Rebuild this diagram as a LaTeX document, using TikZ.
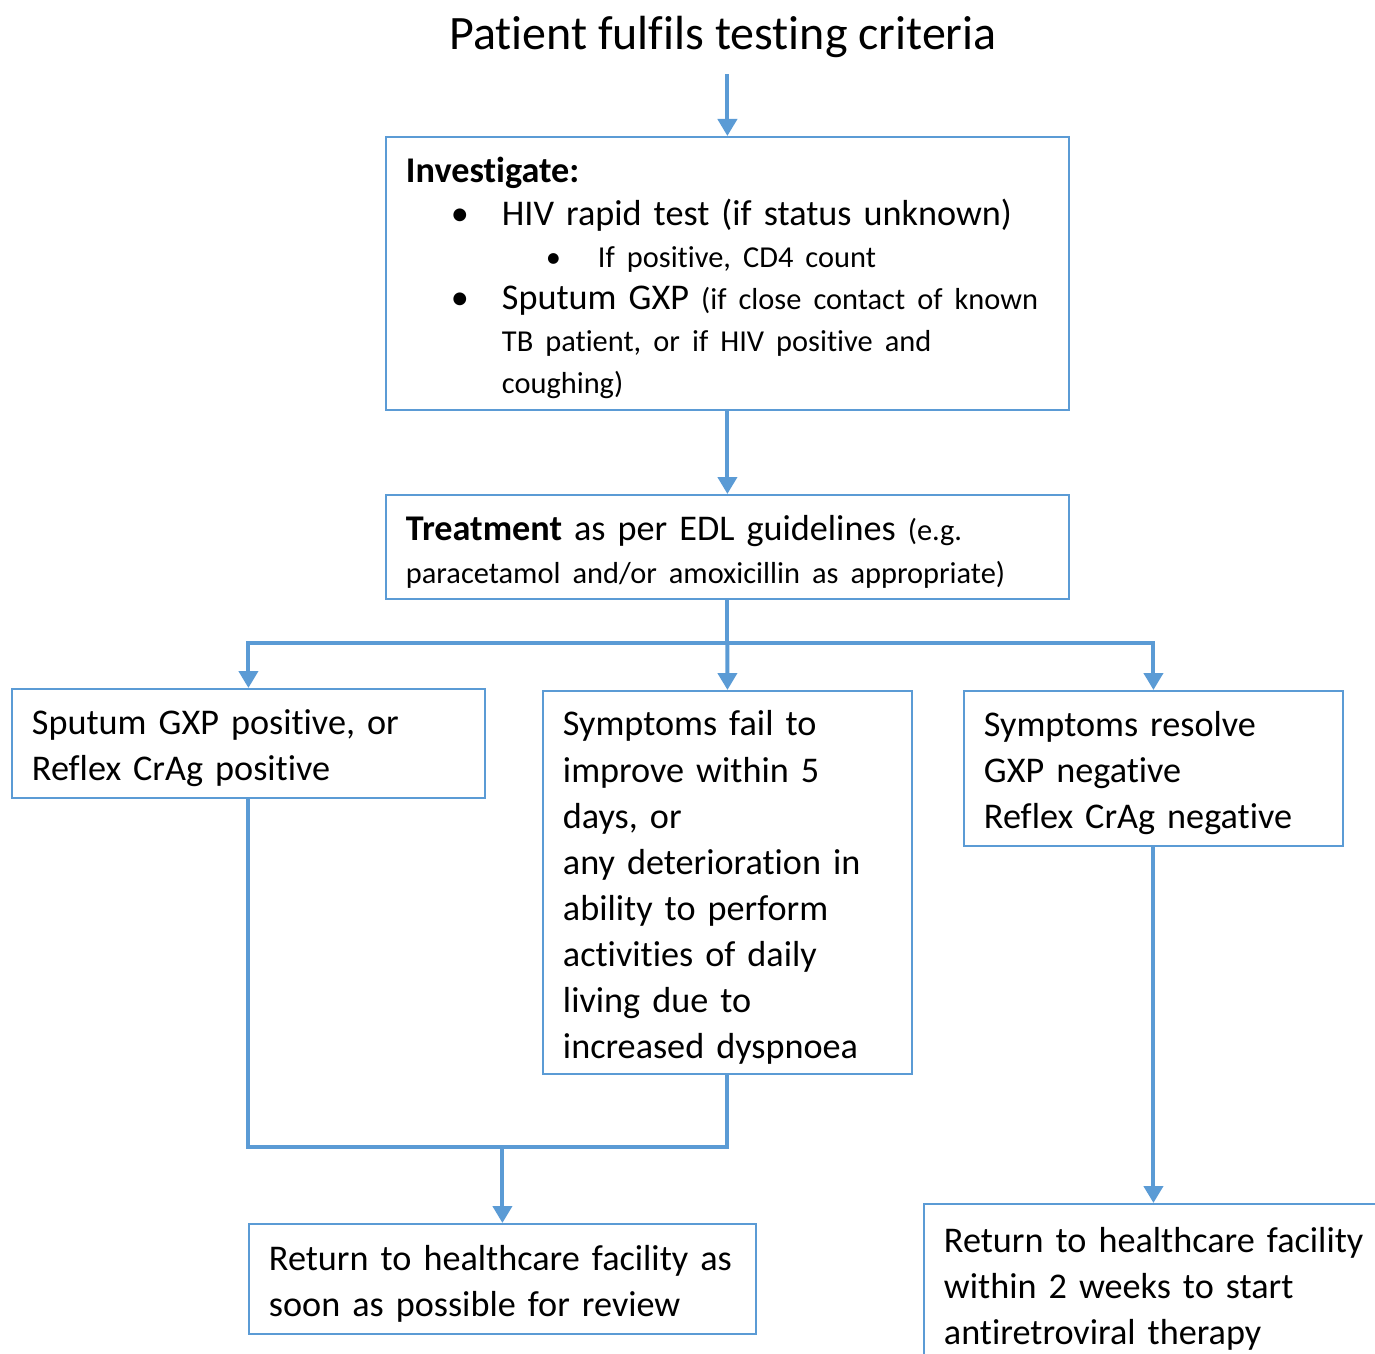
\documentclass[tikz,border=0pt]{standalone}
\usepackage{fontspec}
\setmainfont{Carlito}[Ligatures=NoCommon]
\usetikzlibrary{arrows.meta,positioning}
\definecolor{flowblue}{RGB}{91,155,213}
\newcommand{\bigtxt}{\fontsize{20.6}{26.2}\selectfont}
\newcommand{\smalltxt}{\fontsize{17.3}{24}\selectfont}

\begin{document}
\begin{tikzpicture}[x=0.02cm,y=-0.02cm,
box/.style ={rectangle, draw=flowblue, line width=1.1pt, anchor=north west,
  align=left, inner xsep=0.4cm, inner ysep=0pt, font=\bigtxt,
  execute at begin node={\rule{0pt}{20pt}}
},
link/.style ={draw=flowblue, line width=2.3pt},
arrow/.style ={link, -{Triangle[width=0.38cm,length=0.34cm]}}
]
\useasboundingbox (0,0) rectangle (1375,1354);
\clip (0,0) rectangle (1375,1354);

\node (title) at (723,37) [inner xsep=0pt, inner ysep=0.32cm,
  font=\fontsize{27.3}{32}\selectfont] {Patient fulfils testing criteria};

% investigate and treat
\node (inv) at (385,136) [box, text width=12.86cm, minimum height=5.46cm,
  font=\fontsize{20.6}{24}\selectfont]
  {\textbf{Investigate:}\\
   \hspace*{0.9cm}\makebox[1.02cm][l]{\textbullet}HIV rapid test (if status unknown)\\
   \hspace*{2.8cm}\makebox[1.04cm][l]{\smalltxt\textbullet}{\smalltxt If positive, CD4 count}\\
   \hspace*{0.9cm}\makebox[1.02cm][l]{\textbullet}Sputum GXP {\smalltxt(if close contact of known}\\
   \hspace*{1.92cm}{\smalltxt TB patient, or if HIV positive and}\\
   \hspace*{1.92cm}{\smalltxt coughing)}};
\node (treat) at (385,494) [box, text width=12.86cm, minimum height=2.08cm,
  font=\fontsize{20.6}{24.5}\selectfont]
  {\textbf{Treatment} as per EDL guidelines {\smalltxt(e.g.}\\
   {\smalltxt paracetamol and/or amoxicillin as appropriate)}};

% outcomes
\node (gxp) at (11,688) [box, text width=8.66cm, minimum height=2.18cm]
  {Sputum GXP positive, or\\Reflex CrAg positive};
\node (fail) at (542,690) [box, text width=6.58cm, minimum height=7.66cm]
  {Symptoms fail to\\improve within 5\\days, or\\any deterioration in\\ability to perform\\
   activities of daily\\living due to\\increased dyspnoea};
\node (resolve) at (963,690) [box, text width=6.78cm, minimum height=3.1cm]
  {Symptoms resolve\\GXP negative\\Reflex CrAg negative};

\node (review) at (248,1223) [box, text width=9.34cm, minimum height=2.2cm]
  {Return to healthcare facility as\\soon as possible for review};
\node (art) at (923,1203) [box, text width=8.8cm, minimum height=3.2cm]
  {Return to healthcare facility\\within 2 weeks to start\\antiretroviral therapy};

\coordinate (split) at (treat.south |- 0,643);
\coordinate (join) at (review.north |- 0,1147);

\draw[arrow] (title.south -| inv.north) -- (inv.north);
\draw[arrow] (inv.south) -- (treat.north);
\draw[link] (treat.south) -- (split);
\draw[arrow] (split) -| (gxp.north);
\draw[arrow] (split) -- (fail.north);
\draw[arrow] (split) -| (resolve.north);

\draw[link] (gxp.south) |- (join);
\draw[link] (fail.south) |- (join);
\draw[arrow] (join) -- (review.north);
\draw[arrow] (resolve.south) -- (resolve.south |- art.north);
\end{tikzpicture}
\end{document}
